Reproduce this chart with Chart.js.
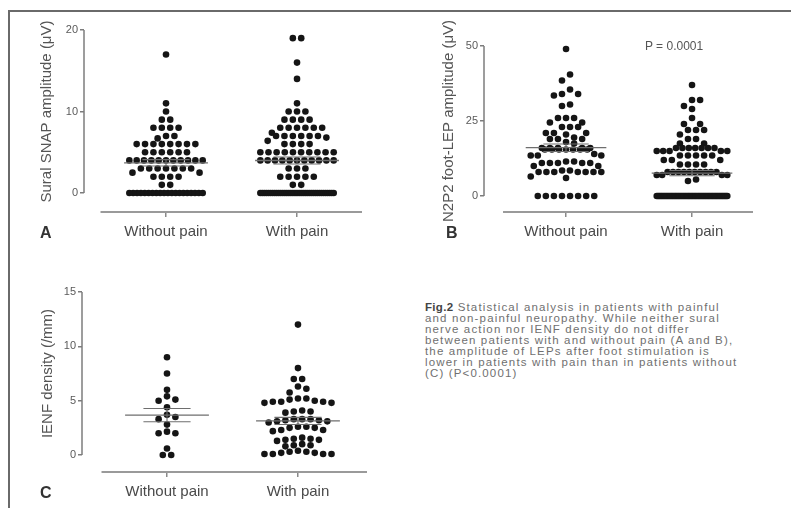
<!DOCTYPE html>
<html>
<head>
<meta charset="utf-8">
<script src="https://cdn.jsdelivr.net/npm/chart.js@4.4.1/dist/chart.umd.min.js"></script>
<style>
  html, body { margin: 0; padding: 0; background: #fff; }
  body { width: 791px; height: 508px; position: relative; overflow: hidden;
         font-family: "Liberation Sans", Arial, sans-serif; }
  .frame { position: absolute; left: 8px; top: 10px; width: 820px; height: 540px;
           border-top: 2px solid #6a6a6a; border-left: 2px solid #6a6a6a; }
  canvas { position: absolute; }
  .panel { position: absolute; font-size: 16px; line-height: 16px; font-weight: bold; color: #333; }
  .pval { position: absolute; left: 645px; top: 40px; font-size: 12px; line-height: 12px; color: #555; white-space: nowrap; }
  .caption { position: absolute; left: 425px; top: 302px; font-size: 11.5px; line-height: 11px;
             letter-spacing: 1.15px; color: #707070; white-space: nowrap; }
  .caption b { color: #444; letter-spacing: 0.3px; }
</style>
</head>
<body>
<div class="frame"></div>
<canvas id="chartA" width="395" height="255" style="left:0;top:0"></canvas>
<canvas id="chartB" width="396" height="255" style="left:395px;top:0"></canvas>
<canvas id="chartC" width="395" height="253" style="left:0;top:255px"></canvas>
<div class="panel" style="left:40px;top:225px">A</div>
<div class="panel" style="left:446px;top:225px">B</div>
<div class="panel" style="left:40px;top:485px">C</div>
<div class="pval">P = 0.0001</div>
<div class="caption"><b>Fig.2</b> Statistical analysis in patients with painful<br>and non-painful neuropathy. While neither sural<br>nerve action nor IENF density do not differ<br>between patients with and without pain (A and B),<br>the amplitude of LEPs after foot stimulation is<br>lower in patients with pain than in patients without<br>(C) (P&lt;0.0001)</div>

<script>
// Groups shown on every panel
const groups = ['Without pain', 'With pain'];

// A: sural SNAP amplitude (µV)
const snapWithoutPain = [17, 11, 10, 9, 9, 8, 8, 8, 8, 7, 7, 6.7,
  6, 6, 6, 6, 6, 6, 6, 6, 5, 5, 5, 5, 5, 5,
  4, 4, 4, 4, 4, 4, 4, 4, 4, 4, 4, 3, 3, 3, 3, 3, 3, 3, 2.5, 2.5,
  2, 2, 2, 2, 1, 1,
  0, 0, 0, 0, 0, 0, 0, 0, 0, 0, 0, 0, 0, 0, 0, 0, 0, 0, 0, 0];
const snapWithPain = [19, 19, 16, 14, 11, 10, 10, 10, 9, 9, 9, 9,
  8, 8, 8, 8, 8, 8, 7.4, 7, 7, 7, 7, 7, 7, 6.8, 6.4, 6, 6, 6, 6,
  5, 5, 5, 5, 5, 5, 5, 5, 5, 5, 4, 4, 4, 4, 4, 4, 4, 4, 4, 4, 4,
  3, 3, 3, 2, 2, 2, 2, 2, 1, 1,
  0, 0, 0, 0, 0, 0, 0, 0, 0, 0, 0, 0, 0, 0, 0, 0, 0, 0, 0, 0,
  0, 0, 0, 0, 0, 0, 0, 0, 0, 0, 0, 0, 0, 0, 0, 0, 0];

// B: N2P2 foot-LEP amplitude (µV)
const lepWithoutPain = [49, 40.5, 38.5, 35.5, 34, 33.5, 34, 30, 30.5, 26, 26, 26,
  24.5, 24.5, 23, 23, 23, 21, 21, 20.5, 21, 19, 19, 19.5, 19, 18, 17.5,
  16, 16, 15.5, 16, 15.5, 15.5, 16, 15.5, 15.5, 15.5, 16, 15.5,
  13.5, 13.5, 14, 13.5, 11, 11, 11.5, 11, 11, 11.5, 11, 10, 10,
  8, 8, 8, 8, 8, 8, 8, 8.5, 8.5, 6.5, 6,
  0, 0, 0, 0, 0, 0, 0, 0];
const lepWithPain = [37, 32, 32, 30, 29, 26, 24, 24, 22, 22, 22, 20.5, 19, 19,
  17.5, 17.5, 16, 16, 16, 16, 16, 16, 16, 15, 15, 15, 15, 15,
  13.5, 13.5, 13.5, 13.5, 13.5, 12, 12, 12, 10.5, 10.5, 10.5, 10.5,
  8, 8, 8, 8, 8, 8, 8, 8, 8, 8, 7, 7, 7, 7, 5.5, 5,
  0, 0, 0, 0, 0, 0, 0, 0, 0, 0, 0, 0, 0, 0, 0, 0, 0, 0, 0, 0,
  0, 0, 0, 0, 0, 0, 0, 0, 0, 0, 0, 0, 0, 0, 0, 0, 0, 0, 0, 0,
  0, 0, 0, 0, 0, 0, 0, 0, 0, 0, 0, 0, 0, 0, 0];

// C: IENF density (/mm)
const ienfWithoutPain = [9.0, 7.5, 6.0, 5.4, 5.1, 5.0, 4.4, 3.7, 3.5, 3.3, 2.8,
  2.15, 2.0, 2.0, 0.6, 0, 0];
const ienfWithPain = [12, 8, 7, 7, 6.3, 6.1, 5.75, 5.2, 5.2, 5.1, 5.0, 4.9, 4.9,
  4.8, 4.8, 4.9, 4.1, 4.0, 4.0, 3.9, 3.3, 3.3, 3.3, 3.2, 3.2, 3.1, 3.1, 3.0,
  2.6, 2.6, 2.5, 2.5, 2.3, 2.3, 2.2, 1.6, 1.5, 1.5, 1.4, 1.4, 1.3,
  1.0, 0.9, 0.9, 0.8, 0.4, 0.3, 0.3, 0.2, 0.2, 0.1, 0.1, 0.1, 0.1];

// Y tick labels for each panel
const snapTicks = [0, 10, 20];
const lepTicks = [0, 25, 50];
const ienfTicks = [0, 5, 10, 15];

const FONT = '"Liberation Sans", Arial, sans-serif';

function mean(a) { return a.reduce((s, v) => s + v, 0) / a.length; }
function sem(a) {
  const m = mean(a);
  const sd = Math.sqrt(a.reduce((s, v) => s + (v - m) * (v - m), 0) / (a.length - 1));
  return sd / Math.sqrt(a.length);
}

// Column scatter: values are grouped into rows about one dot tall, each row is
// centred on its category (largest values in the middle) and squeezed when wide.
function columnScatter(values, category, rowHeight) {
  const STEP = 0.064, HALF = 0.28;
  const sorted = [...values].sort((p, q) => q - p);
  const rows = [];
  let row = null;
  for (const v of sorted) {
    if (!row || !(v > row.start - rowHeight)) { row = { start: v, items: [] }; rows.push(row); }
    row.items.push(v);
  }
  const pts = [];
  for (const r of rows) {
    const k = r.items.length;
    const step = k > 1 ? Math.min(STEP, 2 * HALF / (k - 1)) : 0;
    const slots = [];
    for (let j = 0; j < k; j++) slots.push((j - (k - 1) / 2) * step);
    slots.sort((p, q) => Math.abs(p) - Math.abs(q) || q - p);
    r.items.forEach((v, i) => pts.push({ x: category + slots[i], y: v }));
  }
  return pts;
}

// Detached Prism-style axes and a y title centred on the drawn axis
function axesPlugin(title, titleX, yTop) {
  return {
    id: 'detachedAxes',
    beforeDatasetsDraw(chart) {
      const { ctx, chartArea, scales: { x, y } } = chart;
      ctx.save();
      ctx.strokeStyle = '#7c7c7c';
      ctx.lineWidth = 1.5;
      ctx.beginPath();
      ctx.moveTo(chartArea.left, y.getPixelForValue(yTop));
      ctx.lineTo(chartArea.left, y.getPixelForValue(0));
      ctx.stroke();
      ctx.strokeStyle = '#9a9a9a';
      ctx.lineWidth = 2;
      ctx.beginPath();
      ctx.moveTo(x.getPixelForValue(0.5), chartArea.bottom);
      ctx.lineTo(chartArea.right, chartArea.bottom);
      ctx.stroke();
      const cy = (y.getPixelForValue(yTop) + y.getPixelForValue(0)) / 2;
      ctx.translate(titleX, cy);
      ctx.rotate(-Math.PI / 2);
      ctx.font = '15px ' + FONT;
      ctx.fillStyle = '#555';
      ctx.textAlign = 'center';
      ctx.textBaseline = 'middle';
      ctx.fillText(title, 0, 0);
      ctx.restore();
    }
  };
}

function buildPanel(id, o) {
  const datasets = [];
  [o.first, o.second].forEach((vals, i) => {
    const c = i + 1;
    datasets.push({
      type: 'scatter', data: columnScatter(vals, c, o.rowHeight),
      backgroundColor: '#151515', borderWidth: 0, pointRadius: 3.3, order: 2, clip: false
    });
    const m = mean(vals), s = sem(vals);
    const seg = (pts, w) => ({
      type: 'line', data: pts, showLine: true, borderColor: '#6e6e6e', borderWidth: w,
      pointRadius: 0, order: 1, clip: false, fill: false
    });
    datasets.push(seg([{ x: c - 0.32, y: m }, { x: c + 0.32, y: m }], 1.3));
    datasets.push(seg([{ x: c - 0.18, y: m + s }, { x: c + 0.18, y: m + s }], 1.1));
    datasets.push(seg([{ x: c - 0.18, y: m - s }, { x: c + 0.18, y: m - s }], 1.1));
    datasets.push(seg([{ x: c, y: m - s }, { x: c, y: m + s }], 1.1));
  });

  const ticks = o.yTicks;
  return new Chart(document.getElementById(id), {
    type: 'scatter',
    data: { datasets },
    options: {
      responsive: false, animation: false, events: [],
      layout: { padding: { top: o.padTop, right: o.padRight, left: 0, bottom: 0 } },
      plugins: { legend: { display: false }, tooltip: { enabled: false } },
      scales: {
        x: {
          type: 'linear', min: o.xMin, max: o.xMax,
          afterBuildTicks: s => { s.ticks = [{ value: 1 }, { value: 2 }]; },
          afterFit: s => { s.height = o.xHeight; },
          ticks: { callback: v => groups[v - 1], font: { family: FONT, size: 15 }, color: '#4a4a4a',
                   padding: 6, maxRotation: 0, autoSkip: false },
          grid: { display: true, drawOnChartArea: false, drawTicks: true, tickLength: 5,
                  color: '#8a8a8a', lineWidth: 1.5 },
          border: { display: false }
        },
        y: {
          type: 'linear', min: o.yMin, max: ticks[ticks.length - 1],
          afterBuildTicks: s => { s.ticks = ticks.map(v => ({ value: v })); },
          afterFit: s => { s.width = o.yWidth; },
          ticks: { font: { family: FONT, size: 11 }, color: '#5a5a5a', padding: 2 },
          grid: { display: true, drawOnChartArea: false, drawTicks: true, tickLength: 4,
                  color: '#7c7c7c', lineWidth: 1.5 },
          border: { display: false }
        }
      }
    },
    plugins: [axesPlugin(o.title, o.titleX, ticks[ticks.length - 1])]
  });
}

buildPanel('chartA', {
  first: snapWithoutPain, second: snapWithPain, rowHeight: 1, yTicks: snapTicks,
  title: 'Sural SNAP amplitude (\u03bcV)', titleX: 47,
  yMin: -2.33, xMin: 0.374, xMax: 2.496,
  padTop: 30, padRight: 33, yWidth: 84, xHeight: 43
});
buildPanel('chartB', {
  first: lepWithoutPain, second: lepWithPain, rowHeight: 2.3, yTicks: lepTicks,
  title: 'N2P2 foot-LEP amplitude (\u03bcV)', titleX: 54,
  yMin: -5.33, xMin: 0.349, xMax: 2.484,
  padTop: 46, padRight: 38, yWidth: 89, xHeight: 43
});
buildPanel('chartC', {
  first: ienfWithoutPain, second: ienfWithPain, rowHeight: 0.6, yTicks: ienfTicks,
  title: 'IENF density (/mm)', titleX: 48,
  yMin: -1.56, xMin: 0.351, xMax: 2.527,
  padTop: 37, padRight: 28, yWidth: 82, xHeight: 36
});
</script>
</body>
</html>
